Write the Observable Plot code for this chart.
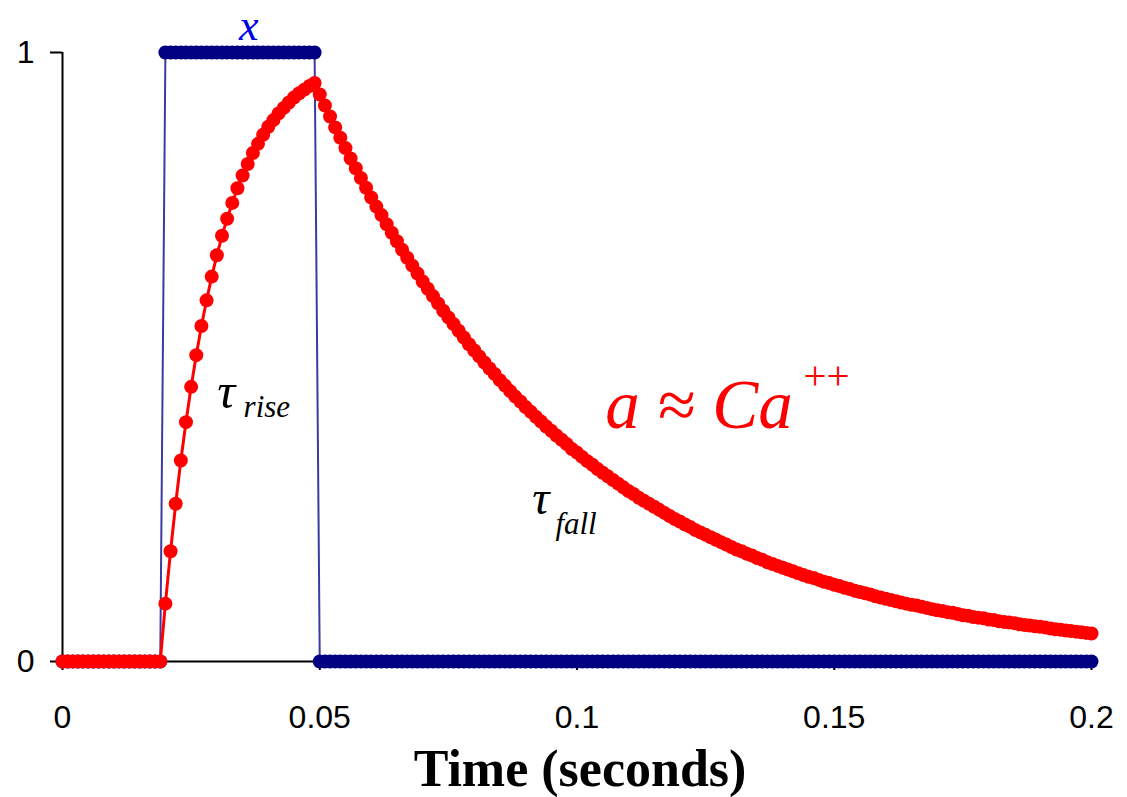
<!DOCTYPE html>
<html>
<head>
<meta charset="utf-8">
<script src="https://cdn.jsdelivr.net/npm/d3@7"></script>
<script src="https://cdn.jsdelivr.net/npm/@observablehq/plot@0.6"></script>
<style>
  html, body { margin: 0; padding: 0; background: #fff; }
  #chart { width: 1127px; height: 797px; }
</style>
</head>
<body>
<div id="chart"></div>
<script>
// Sample times (seconds), 1 ms apart
const times = d3.range(201).map(i => i / 1000);

// Drive signal x: off, on from 0.020 to 0.049 s, off again
const xDrive = [
  ...Array(20).fill(0),
  ...Array(30).fill(1),
  ...Array(151).fill(0)
];

// Calcium-like response a
const aBefore = Array(20).fill(0);
const aRise = [0.095,0.181,0.259,0.330,0.393,0.451,0.503,0.551,0.593,0.632,
  0.667,0.699,0.727,0.753,0.777,0.798,0.817,0.835,0.850,0.865,
  0.878,0.889,0.900,0.909,0.918,0.926,0.933,0.939,0.945,0.950];
const aFall = [0.931,0.913,0.895,0.877,
  0.860,0.843,0.826,0.810,0.794,
  0.778,0.762,0.747,0.733,0.718,
  0.704,0.690,0.676,0.663,0.650,
  0.637,0.624,0.612,0.600,0.588,
  0.576,0.565,0.554,0.543,0.532,
  0.521,0.511,0.501,0.491,0.481,
  0.472,0.462,0.453,0.444,0.435,
  0.427,0.418,0.410,0.402,0.394,
  0.386,0.379,0.371,0.364,0.357,
  0.349,0.343,0.336,0.329,0.323,
  0.316,0.310,0.304,0.298,0.292,
  0.286,0.280,0.275,0.269,0.264,
  0.259,0.254,0.249,0.244,0.239,
  0.234,0.230,0.225,0.221,0.216,
  0.212,0.208,0.204,0.200,0.196,
  0.192,0.188,0.184,0.181,0.177,
  0.174,0.170,0.167,0.163,0.160,
  0.157,0.154,0.151,0.148,0.145,
  0.142,0.139,0.137,0.134,0.131,
  0.129,0.126,0.124,0.121,0.119,
  0.116,0.114,0.112,0.110,0.107,
  0.105,0.103,0.101,0.099,0.097,
  0.095,0.093,0.092,0.090,0.088,
  0.086,0.084,0.083,0.081,0.080,
  0.078,0.076,0.075,0.073,0.072,
  0.071,0.069,0.068,0.066,0.065,
  0.064,0.063,0.061,0.060,0.059,
  0.058,0.057,0.056,0.054,0.053,
  0.052,0.051,0.050,0.049,0.048,
  0.047,0.046];
const aResp = [...aBefore, ...aRise, ...aFall];

const xTicks = [0, 0.05, 0.1, 0.15, 0.2];
const yTicks = [0, 1];
const xTickLabels = ["0", "0.05", "0.1", "0.15", "0.2"];
const yTickLabels = ["0", "1"];

const data = times.map((t, i) => ({t, x: xDrive[i], a: aResp[i]}));

// Annotations in data coordinates
const annotations = [
  {t: 0.0362, v: 1.0212, text: "x", size: 44, style: "italic", color: "#0000e6", anchor: "middle"},
  {t: 0.0301, v: 0.417, text: "τ", size: 50, style: "italic", color: "black", anchor: "start"},
  {t: 0.0352, v: 0.401, text: "rise", size: 31, style: "italic", color: "black", anchor: "start"},
  {t: 0.0913, v: 0.243, text: "τ", size: 48, style: "italic", color: "black", anchor: "start"},
  {t: 0.0958, v: 0.210, text: "fall", size: 31, style: "italic", color: "black", anchor: "start"},
  {t: 0.1055, v: 0.384, text: "a ≈ Ca", size: 69, style: "italic", color: "#ff0000", anchor: "start"},
  {t: 0.1440, v: 0.448, text: "++", size: 41, style: "normal", color: "#ff0000", anchor: "start"}
];

const serif = "Liberation Serif, Times New Roman, Times, serif";
const textMark = d => Plot.text([d], {
  x: "t", y: "v", text: "text",
  fontSize: d.size, fontStyle: d.style, fill: d.color,
  fontFamily: serif,
  textAnchor: d.anchor, lineAnchor: "bottom"
});

const chart = Plot.plot({
  width: 1127,
  height: 797,
  marginLeft: 62,
  marginRight: 36,
  marginTop: 52,
  marginBottom: 136,
  x: {domain: [0, 0.2]},
  y: {domain: [0, 1]},
  style: {fontFamily: "Liberation Sans, Arial, sans-serif", background: "white", color: "black"},
  marks: [
    Plot.axisX({ticks: xTicks, tickFormat: (d, i) => xTickLabels[i], tickSize: 9, tickPadding: 35,
      fontSize: 32, strokeWidth: 2, label: null}),
    Plot.axisY({ticks: yTicks, tickFormat: (d, i) => yTickLabels[i], tickSize: 12, tickPadding: 16,
      fontSize: 32, strokeWidth: 2, label: null}),
    Plot.ruleX([0], {stroke: "black", strokeWidth: 2}),
    Plot.ruleY([0], {stroke: "black", strokeWidth: 2}),
    Plot.line(data, {x: "t", y: "x", stroke: "#3a3aa2", strokeWidth: 2}),
    Plot.dot(data, {x: "t", y: "x", r: 7, fill: "#000080"}),
    Plot.line(data, {x: "t", y: "a", stroke: "#ff0000", strokeWidth: 3}),
    Plot.dot(data, {x: "t", y: "a", r: 7, fill: "#ff0000"}),
    ...annotations.map(textMark),
    Plot.text(["Time (seconds)"], {frameAnchor: "bottom", lineAnchor: "bottom", dy: 124, dx: 3,
      fontSize: 52, fontWeight: "bold", fontFamily: serif, fill: "black"})
  ]
});

document.getElementById("chart").appendChild(chart);
</script>
</body>
</html>
